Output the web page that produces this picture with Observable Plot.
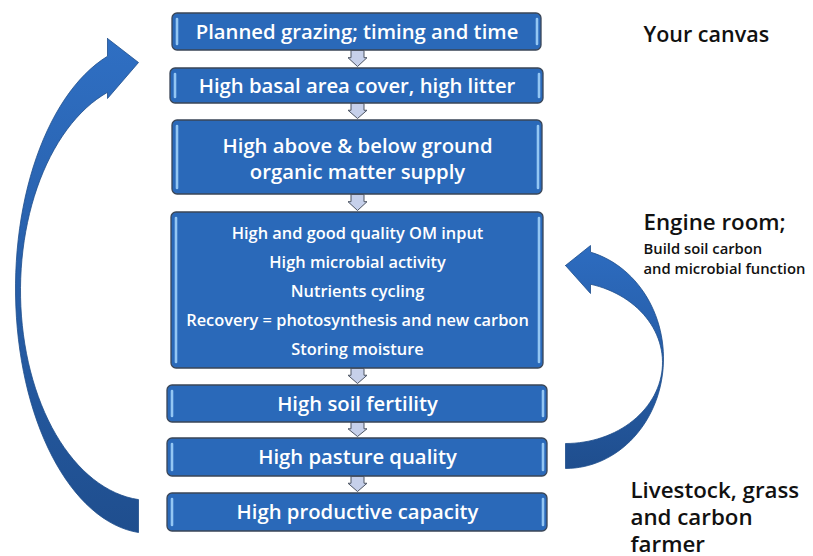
<!DOCTYPE html>
<html><head><meta charset="utf-8">
<script src="https://cdn.jsdelivr.net/npm/d3@7"></script>
<script src="https://cdn.jsdelivr.net/npm/@observablehq/plot@0.6"></script>
<style>html,body{margin:0;padding:0;background:#fff;}</style>
</head><body><div id="chart"></div>
<script>
// ---- content ----
const boxLabels = [
  "Planned grazing; timing and time",
  "High basal area cover, high litter",
  "High above & below ground\norganic matter supply",
  "High and good quality OM input\nHigh microbial activity\nNutrients cycling\nRecovery = photosynthesis and new carbon\nStoring moisture",
  "High soil fertility",
  "High pasture quality",
  "High productive capacity"
];
const sideLabels = ["Your canvas", "Engine room;", "Build soil carbon\nand microbial function", "Livestock, grass\nand carbon\nfarmer"];

// ---- layout (pixels) ----
const W = 813, H = 556;
const boxTop    = [13, 68, 120, 212, 385, 438, 493];
const boxBottom = [50, 103, 194, 368, 422, 476, 531];
const boxLeft   = [172, 170, 172, 171, 167, 167, 167];
const boxRight  = [541, 543, 542, 543, 547, 547, 547];
const sideX = [643, 643, 643, 630];
const sideY = [35, 222, 257.5, 516];
const sideSize = [21.5, 22.3, 14.8, 22.3];
const sideLineH = [1, 1, 1.33, 1.21];

const boxes = boxLabels.map((t, i) => ({
  label: t, x1: boxLeft[i], x2: boxRight[i], y1: boxTop[i], y2: boxBottom[i],
  cx: (boxLeft[i] + boxRight[i]) / 2, cy: (boxTop[i] + boxBottom[i]) / 2
}));

// small connector arrows between consecutive boxes
const conn = [];
for (let i = 0; i < boxes.length - 1; i++) {
  const cx = 357, y0 = boxes[i].y2, y1 = boxes[i + 1].y1 - 2, ym = y0 + (y1 - y0) * 0.45;
  [[cx - 6.5, y0], [cx + 6.5, y0], [cx + 6.5, ym], [cx + 9.5, ym], [cx, y1], [cx - 9.5, ym], [cx - 6.5, ym], [cx - 6.5, y0]]
    .forEach(([x, y]) => conn.push({id: i, x, y}));
}

// curved arrows: elliptical edges
function arc(cx, cy, rx, ry, t0, t1, n = 60) {
  const p = [];
  for (let k = 0; k <= n; k++) { const t = t0 + (t1 - t0) * k / n; p.push({x: cx + rx * Math.cos(t), y: cy + ry * Math.sin(t)}); }
  return p;
}
// left arrow (returns to top)
const L = {o: [150, 288, 135, 245], i: [150, 290, 130, 210], headX: 107, tailX: 138, tip: [138, 62], hTop: 38, hBot: 98};
const lo = L.o, li = L.i;
const leftPts = [
  {x: L.headX, y: L.hTop}, {x: L.tip[0], y: L.tip[1]}, {x: L.headX, y: L.hBot},
  ...arc(li[0], li[1], li[2], li[3], -Math.acos((L.headX - li[0]) / li[2]), -2 * Math.PI + Math.acos((L.tailX - li[0]) / li[2])),
  ...arc(lo[0], lo[1], lo[2], lo[3], -2 * Math.PI + Math.acos((L.tailX - lo[0]) / lo[2]), -Math.acos((L.headX - lo[0]) / lo[2])),
  {x: L.headX, y: L.hTop}
];
// right arrow (engine room loop)
const R = {o: [565, 358, 98, 110], i: [565, 362, 97, 81], headX: 590, tailX: 565, tip: [565, 265], hTop: 245, hBot: 293};
const ro = R.o, ri = R.i;
const rightPts = [
  {x: R.tip[0], y: R.tip[1]}, {x: R.headX, y: R.hBot},
  ...arc(ri[0], ri[1], ri[2], ri[3], -Math.acos((R.headX - ri[0]) / ri[2]), Math.acos((R.tailX - ri[0]) / ri[2])),
  ...arc(ro[0], ro[1], ro[2], ro[3], Math.acos((R.tailX - ro[0]) / ro[2]), -Math.acos((R.headX - ro[0]) / ro[2])),
  {x: R.headX, y: R.hTop}, {x: R.tip[0], y: R.tip[1]}
];

const BLUE = "#2a69b9";
const single = boxes.filter((d, i) => i !== 2 && i !== 3);

const svg = Plot.plot({
  width: W, height: H, margin: 0,
  x: {domain: [0, W], range: [0, W], axis: null},
  y: {domain: [0, H], range: [0, H], axis: null},
  style: {fontFamily: "'Open Sans', sans-serif", background: "#fff"},
  marks: [
    Plot.line(leftPts, {x: "x", y: "y", fill: "url(#gLeft)", stroke: "#1d4c8a", strokeWidth: 0.8, curve: "linear"}),
    Plot.line(rightPts, {x: "x", y: "y", fill: "url(#gRight)", stroke: "#1d4c8a", strokeWidth: 0.8, curve: "linear"}),
    Plot.rect(boxes, {x1: "x1", x2: "x2", y1: "y1", y2: "y2", rx: 5, fill: BLUE, stroke: "#3a4657", strokeWidth: 1.3}),
    Plot.ruleX(boxes, {x: d => d.x1 + 4.5, y1: d => d.y1 + 6, y2: d => d.y2 - 6, stroke: "#93c6f3", strokeWidth: 2.6, strokeLinecap: "round"}),
    Plot.ruleX(boxes, {x: d => d.x2 - 4.5, y1: d => d.y1 + 6, y2: d => d.y2 - 6, stroke: "#93c6f3", strokeWidth: 2.6, strokeLinecap: "round"}),
    Plot.line(conn, {x: "x", y: "y", z: "id", fill: "#c6d0ea", stroke: "#4d5563", strokeWidth: 1, curve: "linear"}),
    Plot.text(single, {x: "cx", y: "cy", text: "label", fill: "white", fontSize: 20.3, fontWeight: 600}),
    Plot.text([boxes[2]], {x: "cx", y: "cy", text: "label", fill: "white", fontSize: 20.3, fontWeight: 600, lineHeight: 1.3}),
    Plot.text([boxes[3]], {x: "cx", y: d => d.cy - 3, text: "label", fill: "white", fontSize: 16.4, fontWeight: 600, lineHeight: 1.77}),
    ...sideLabels.map((t, i) => Plot.text([t], {x: sideX[i], y: sideY[i], text: d => d, textAnchor: "start", fill: "#111", fontSize: sideSize[i], fontWeight: 600, lineHeight: sideLineH[i]}))
  ]
});
const defs = d3.select(svg).insert("defs", ":first-child");
const g1 = defs.append("linearGradient").attr("id", "gLeft").attr("x1", 0).attr("y1", 0).attr("x2", 0).attr("y2", 1);
g1.append("stop").attr("offset", "0%").attr("stop-color", "#2f6fc3");
g1.append("stop").attr("offset", "100%").attr("stop-color", "#1f4e8e");
const g2 = defs.append("linearGradient").attr("id", "gRight").attr("x1", 0).attr("y1", 0).attr("x2", 0).attr("y2", 1);
g2.append("stop").attr("offset", "0%").attr("stop-color", "#2d6cc0");
g2.append("stop").attr("offset", "100%").attr("stop-color", "#1f4e8e");
document.getElementById("chart").appendChild(svg);
</script></body></html>
